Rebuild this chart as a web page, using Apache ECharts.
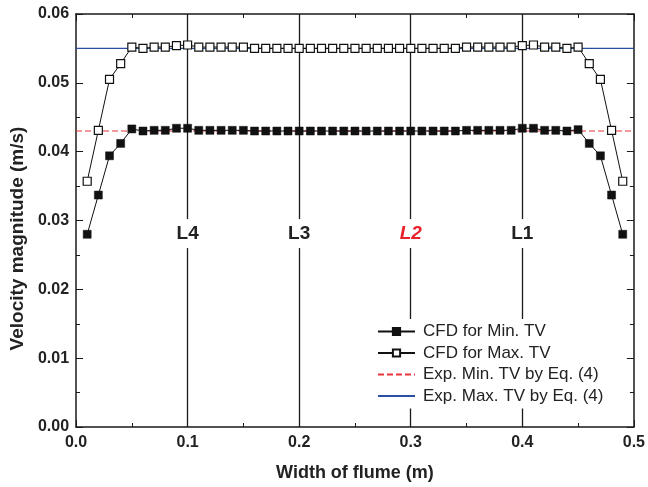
<!DOCTYPE html>
<html>
<head>
<meta charset="utf-8">
<script src="https://cdn.jsdelivr.net/npm/echarts@6/dist/echarts.min.js"></script>
<style>
  html, body { margin: 0; padding: 0; background: #fff; }
  #chart { width: 648px; height: 487px; }
</style>
</head>
<body>
<div id="chart"></div>
<script>
// Positions across the flume width (m)
const widths = [0.01, 0.02, 0.03, 0.04, 0.05, 0.06, 0.07, 0.08, 0.09, 0.10,
  0.11, 0.12, 0.13, 0.14, 0.15, 0.16, 0.17, 0.18, 0.19, 0.20,
  0.21, 0.22, 0.23, 0.24, 0.25, 0.26, 0.27, 0.28, 0.29, 0.30,
  0.31, 0.32, 0.33, 0.34, 0.35, 0.36, 0.37, 0.38, 0.39, 0.40,
  0.41, 0.42, 0.43, 0.44, 0.45, 0.46, 0.47, 0.48, 0.49];

// CFD velocity magnitude (m/s) for minimum threshold velocity
const cfdMin = [0.0280, 0.0337, 0.0394, 0.0412, 0.0433, 0.0430, 0.0431, 0.0431, 0.0434, 0.0434,
  0.0431, 0.0431, 0.0431, 0.0431, 0.0431, 0.0430, 0.0430, 0.0430, 0.0430, 0.0430,
  0.0430, 0.0430, 0.0430, 0.0430, 0.0430, 0.0430, 0.0430, 0.0430, 0.0430, 0.0430,
  0.0430, 0.0430, 0.0430, 0.0430, 0.0431, 0.0431, 0.0431, 0.0431, 0.0431, 0.0434,
  0.0434, 0.0431, 0.0431, 0.0430, 0.0432, 0.0412, 0.0394, 0.0337, 0.0280];

// CFD velocity magnitude (m/s) for maximum threshold velocity
const cfdMax = [0.0357, 0.0431, 0.0505, 0.0528, 0.0552, 0.0550, 0.0552, 0.0552, 0.0554, 0.0555,
  0.0552, 0.0552, 0.0552, 0.0552, 0.0552, 0.0550, 0.0550, 0.0550, 0.0550, 0.0550,
  0.0550, 0.0550, 0.0550, 0.0550, 0.0550, 0.0550, 0.0550, 0.0550, 0.0550, 0.0550,
  0.0550, 0.0550, 0.0550, 0.0550, 0.0552, 0.0552, 0.0552, 0.0552, 0.0552, 0.0554,
  0.0555, 0.0552, 0.0552, 0.0550, 0.0552, 0.0528, 0.0505, 0.0431, 0.0357];

// Experimental threshold velocities from Eq. (4)
const expMin = 0.043;
const expMax = 0.055;

// Measurement lines across the flume
const lineX = [0.1, 0.2, 0.3, 0.4];
const lineNames = ['L4', 'L3', 'L2', 'L1'];
const lineLabelY = 0.0281;

const xMin = 0, xMax = 0.5, xStep = 0.1;
const yMin = 0, yMax = 0.06, yStep = 0.01;

const FONT = '"Liberation Sans", Arial, Helvetica, sans-serif';
const AXIS_COLOR = '#1a1a1a';
const TEXT_COLOR = '#222';

const chart = echarts.init(document.getElementById('chart'), null, { renderer: 'canvas' });

function pairs(xs, ys) { return xs.map((x, i) => [x, ys[i]]); }

const frameAxis = {
  axisLine: { show: true, onZero: false, lineStyle: { color: AXIS_COLOR, width: 1.5 } },
  axisTick: { show: true, inside: true, length: 7, lineStyle: { color: AXIS_COLOR, width: 1 } },
  minorTick: { show: true, splitNumber: 2, length: 4, lineStyle: { color: AXIS_COLOR, width: 1 } },
  splitLine: { show: false },
  minorSplitLine: { show: false }
};

const hiddenSymbol = { color: 'rgba(0,0,0,0)', borderColor: 'rgba(0,0,0,0)', borderWidth: 0, opacity: 0 };

const option = {
  backgroundColor: '#fff',
  animation: false,
  grid: { left: 76, right: 13, top: 14, bottom: 57, containLabel: false },
  xAxis: [
    Object.assign({
      type: 'value', min: xMin, max: xMax, interval: xStep, position: 'bottom',
      name: 'Width of flume (m)', nameLocation: 'middle', nameGap: 37,
      nameTextStyle: { fontFamily: FONT, fontWeight: 'bold', fontSize: 18, color: TEXT_COLOR },
      axisLabel: { show: true, margin: 8, fontFamily: FONT, fontWeight: 'bold', fontSize: 16, color: TEXT_COLOR,
        formatter: v => v.toFixed(1) }
    }, frameAxis),
    Object.assign({
      type: 'value', min: xMin, max: xMax, interval: xStep, position: 'top',
      axisLabel: { show: false }
    }, frameAxis)
  ],
  yAxis: [
    Object.assign({
      type: 'value', min: yMin, max: yMax, interval: yStep, position: 'left',
      name: 'Velocity magnitude (m/s)', nameLocation: 'middle', nameGap: 45, nameRotate: 90,
      nameTextStyle: { fontFamily: FONT, fontWeight: 'bold', fontSize: 19, color: TEXT_COLOR,
        padding: [0, 36, 0, 0] },
      axisLabel: { show: true, margin: 7, fontFamily: FONT, fontWeight: 'bold', fontSize: 16, color: TEXT_COLOR,
        formatter: v => v.toFixed(2) }
    }, frameAxis),
    Object.assign({
      type: 'value', min: yMin, max: yMax, interval: yStep, position: 'right',
      axisLabel: { show: false }
    }, frameAxis)
  ],
  legend: {
    z: 50, zlevel: 0,
    left: 373, top: 319, orient: 'vertical', align: 'left',
    backgroundColor: '#fff', padding: [4, 8, 4, 4],
    itemWidth: 37, itemHeight: 9, itemGap: 4.5,
    textStyle: { fontFamily: FONT, fontSize: 17, color: TEXT_COLOR, lineHeight: 17, padding: [0, 0, 0, 3] },
    data: [
      { name: 'CFD for Min. TV' },
      { name: 'CFD for Max. TV' },
      { name: 'Exp. Min. TV by Eq. (4)', itemStyle: hiddenSymbol },
      { name: 'Exp. Max. TV by Eq. (4)', itemStyle: hiddenSymbol }
    ]
  },
  series: [
    {
      name: 'lines', type: 'line', data: [], silent: true, z: 1,
      markLine: {
        silent: true, symbol: 'none', animation: false, z: 1,
        lineStyle: { color: AXIS_COLOR, width: 1.3, type: 'solid' },
        label: { show: false },
        emphasis: { disabled: true },
        data: lineX.map(x => ({ xAxis: x }))
      }
    },
    {
      name: 'Exp. Min. TV by Eq. (4)', type: 'line', z: 3,
      data: [[xMin, expMin], [xMax, expMin]],
      symbol: 'none', showSymbol: false,
      lineStyle: { color: '#e8343a', width: 1.2, type: [6, 3] },
      itemStyle: { color: '#e8343a' }
    },
    {
      name: 'Exp. Max. TV by Eq. (4)', type: 'line', z: 3,
      data: [[xMin, expMax], [xMax, expMax]],
      symbol: 'none', showSymbol: false,
      lineStyle: { color: '#2b4fa3', width: 1.3 },
      itemStyle: { color: '#2b4fa3' }
    },
    {
      name: 'CFD for Min. TV', type: 'line', z: 4,
      data: pairs(widths, cfdMin),
      symbol: 'rect', symbolSize: 8,
      lineStyle: { color: '#111', width: 1 },
      itemStyle: { color: '#111', borderColor: '#111', borderWidth: 0.5 }
    },
    {
      name: 'CFD for Max. TV', type: 'line', z: 4,
      data: pairs(widths, cfdMax),
      symbol: 'rect', symbolSize: 8,
      lineStyle: { color: '#111', width: 1 },
      itemStyle: { color: '#fff', borderColor: '#111', borderWidth: 1.2 }
    },
    {
      // White boxes that interrupt the measurement lines and carry their names
      name: 'line labels', type: 'scatter', z: 5, silent: true,
      data: lineX.map((x, i) => ({ value: [x, lineLabelY], name: lineNames[i] })),
      symbol: 'rect', symbolSize: [30, 29],
      itemStyle: { color: '#fff', opacity: 1 },
      emphasis: { disabled: true },
      label: {
        show: true, position: 'inside',
        formatter: p => p.name === 'L2' ? '{red|' + p.name + '}' : '{blk|' + p.name + '}',
        rich: {
          blk: { fontFamily: FONT, fontWeight: 'bold', fontSize: 19, color: TEXT_COLOR },
          red: { fontFamily: FONT, fontWeight: 'bold', fontStyle: 'italic', fontSize: 19, color: '#e8202a' }
        }
      }
    }
  ]
};

chart.setOption(option);
</script>
</body>
</html>
